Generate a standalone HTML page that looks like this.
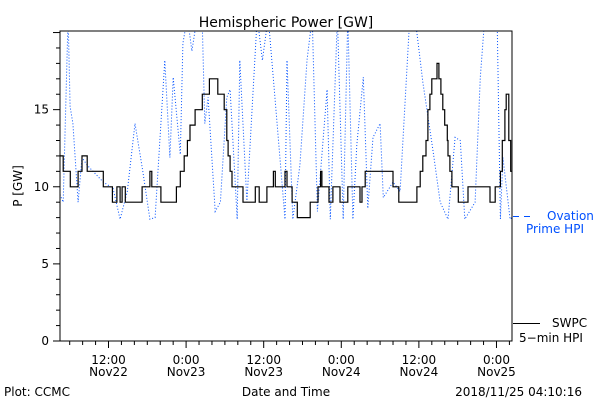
<!DOCTYPE html>
<html><head><meta charset="utf-8">
<style>
html,body{margin:0;padding:0;background:#fff;}
svg{display:block;font-family:"DejaVu Sans","Liberation Sans",sans-serif;}
</style></head>
<body>
<svg id="chart" width="600" height="400" viewBox="0 0 600 400" xmlns="http://www.w3.org/2000/svg">
<rect x="0" y="0" width="600" height="400" fill="#fff"/>
<text x="286" y="27" font-size="14" text-anchor="middle" fill="#000">Hemispheric Power [GW]</text>
<text transform="translate(22,186) rotate(-90)" font-size="12" text-anchor="middle" fill="#000">P [GW]</text>
<text x="286" y="396" font-size="12" text-anchor="middle" fill="#000">Date and Time</text>
<text x="4" y="396" font-size="12" fill="#000">Plot: CCMC</text>
<text x="582" y="396" font-size="12" text-anchor="end" fill="#000">2018/11/25 04:10:16</text>
<g id="plot"></g>
<g>
<line x1="513" y1="216.5" x2="534" y2="216.5" stroke="#0050ff" stroke-width="1" stroke-dasharray="6,5"/>
<text x="547" y="220" font-size="12" fill="#0050ff">Ovation</text>
<text x="526" y="233" font-size="12" fill="#0050ff">Prime HPI</text>
</g>
<g>
<line x1="513" y1="323.5" x2="540" y2="323.5" stroke="#000" stroke-width="1"/>
<text x="552" y="327" font-size="12" fill="#000">SWPC</text>
<text x="519" y="342" font-size="12" fill="#000">5−min HPI</text>
</g>
</svg>
<script>
// hours since 2018-11-22 00:00
const swpcTimes=[4.5,5.0,6.1,7.3,7.9,8.7,11.2,12.6,13.3,13.8,14.1,14.6,17.2,18.4,18.7,20.1,22.5,23.1,23.7,24.2,24.6,25.4,26.5,27.6,28.9,29.9,30.3,30.5,30.8,31.1,32.8,34.7,35.3,36.5,37.5,37.8,38.2,39.3,39.6,40.4,41.2,43.2,44.4,44.8,45.0,46.1,46.7,47.8,49.0,50.9,51.2,51.7,56.0,56.9,59.7,60.2,60.6,61.1,61.4,61.7,62.0,62.8,63.1,63.4,63.7,64.0,64.4,64.5,64.8,65.1,66.1,67.6,71.0,71.8,72.6,72.9,73.3,73.5,73.9,74.2,74.4];
const swpcValues=[12,11,10,11,12,11,10,9,10,9,10,9,10,11,10,9,10,11,12,13,14,15,16,17,16,15,13,12,11,10,9,10,9,10,11,10,10,11,10,9,8,9,10,11,10,9,10,9,10,9,10,11,10,9,10,11,12,13,15,16,17,18,17,16,15,14,13,12,11,10,9,10,9,10,11,13,15,16,13,11,11];
const ovTimes=[4.5,5.0,5.75,6.06,6.5,7.3,7.9,8.7,11.2,12.7,13.8,14.9,16.1,17.3,18.4,19.2,20.7,21.5,22.0,23.1,23.5,24.2,24.9,25.7,26.5,26.9,27.4,28.5,29.3,30.3,30.8,31.9,32.3,33.4,35.0,35.8,36.7,37.8,39.3,39.6,40.5,41.6,42.7,43.5,44.3,45.8,46.3,47.4,48.3,49.0,49.8,50.4,51.4,52.1,52.9,54.0,54.5,56.0,57.1,58.6,59.4,60.6,62.2,63.3,64.5,65.6,66.4,67.1,68.7,69.5,70.2,71.0,72.1,72.6,73.0,74.1,74.4];
const ovValues=[9.5,9.0,21,15.2,14.1,9.0,11.9,11.4,10.3,9.9,7.9,9.7,14.1,11,7.9,8.0,18.2,11.9,17.1,12.1,19.3,21,18.8,21,20.5,14.1,15.8,8.4,9.0,15.8,16.3,7.9,18.2,9.0,21,18.2,21,15.5,7.9,18.2,7.9,11.4,18.2,21,8.4,16.3,7.9,21,7.9,21,7.9,12.7,17.1,8.6,13.2,14.1,9.3,10.3,9.7,21,21,16.8,12.3,9.0,7.9,13.2,13.0,7.9,9.0,17.1,21,21,21,7.9,11.9,7.9,8.0];
const yTicks=[0,5,10,15];
const xTickHours=[12,24,36,48,60,72];
const xTickLabels=[["12:00","Nov22"],["0:00","Nov23"],["12:00","Nov23"],["0:00","Nov24"],["12:00","Nov24"],["0:00","Nov25"]];

const L=60,R=512,T=31,B=341;
const tMin=4.5,tMax=74.4,yMax=20.1;
const xS=h=>L+(h-tMin)/(tMax-tMin)*(R-L);
const yS=v=>B-v/yMax*(B-T);
const NS="http://www.w3.org/2000/svg";
const plot=document.getElementById('plot');
function mk(tag,attrs,parent){const e=document.createElementNS(NS,tag);for(const k in attrs)e.setAttribute(k,attrs[k]);(parent||plot).appendChild(e);return e;}

const defs=mk('defs',{});
const cp=mk('clipPath',{id:'clip'},defs);
mk('rect',{x:L,y:T,width:R-L,height:B-T},cp);

// ovation dotted
let d='';
ovTimes.forEach((t,i)=>{d+=(i?'L':'M')+xS(t).toFixed(1)+','+yS(ovValues[i]).toFixed(1);});
const ov=mk('path',{d:d,fill:'none',stroke:'#0050ff','stroke-width':1,'stroke-dasharray':'1,2','clip-path':'url(#clip)'});



// swpc step
let s='';
swpcTimes.forEach((t,i)=>{
  const x=xS(t).toFixed(1),y=yS(swpcValues[i]).toFixed(1);
  if(i===0)s+='M'+x+','+y;else s+='H'+x+'V'+y;
});
const sw=mk('path',{d:s,fill:'none',stroke:'#000','stroke-width':1.2,'clip-path':'url(#clip)'});



// axes frame
const fr=mk('rect',{x:L,y:T,width:R-L,height:B-T,fill:'none',stroke:'#000','stroke-width':1});



// y ticks
for(let v=0;v<=20;v++){
  const y=yS(v);const major=v%5===0;
  mk('line',{x1:L-(major?7:4),y1:y,x2:L,y2:y,stroke:'#000','stroke-width':1});
}
yTicks.forEach(v=>{
  const t=mk('text',{x:L-11,y:yS(v)+4,'font-size':12,'text-anchor':'end',fill:'#000'});
  t.textContent=v;
  
  
});
// x ticks
for(let h=6;h<=tMax;h+=2){
  const x=xS(h);const major=h%12===0;
  mk('line',{x1:x,y1:B,x2:x,y2:B+(major?7:4),stroke:'#000','stroke-width':1});
}
xTickHours.forEach((h,i)=>{
  const x=xS(h);
  const t1=mk('text',{x:x,y:B+23,'font-size':12,'text-anchor':'middle',fill:'#000'});
  t1.textContent=xTickLabels[i][0];
  
  
  const t2=mk('text',{x:x,y:B+35,'font-size':12,'text-anchor':'middle',fill:'#000'});
  t2.textContent=xTickLabels[i][1];
  
  
});
</script>
</body></html>
